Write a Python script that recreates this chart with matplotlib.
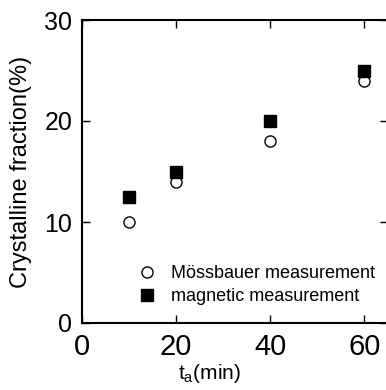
import matplotlib
matplotlib.use('Agg')
import matplotlib.pyplot as plt

plt.rcParams['font.family'] = ['Liberation Sans', 'DejaVu Sans']

t_min = [10, 20, 40, 60]
mossbauer = [10, 14, 18, 24]
magnetic = [12.5, 15, 20, 25]

fig = plt.figure(figsize=(3.86, 3.9), dpi=100)
ax = fig.add_axes([82 / 386, 1 - 323 / 390, 306 / 386, 303 / 390])

ax.plot(t_min, mossbauer, 'o', mfc='white', mec='black', mew=1.0, ms=8,
        label='Mössbauer measurement', clip_on=False)
ax.plot(t_min, magnetic, 's', mfc='black', mec='black', ms=8,
        label='magnetic measurement', clip_on=False)

ax.set_xlim(0, 65)
ax.set_ylim(0, 30)
ax.set_xticks([0, 20, 40, 60])
ax.set_yticks([0, 10, 20, 30])
ax.tick_params(direction='in', top=True, right=True, length=6, width=1)
ax.tick_params(axis='x', labelsize=21, pad=7)
ax.tick_params(axis='y', labelsize=18, pad=7)
for s in ax.spines.values():
    s.set_linewidth(1.5)

ax.set_xlabel(r'$\mathregular{t_a}$(min)', fontsize=15)
ax.xaxis.set_label_coords(0.415, -0.13)
ax.set_ylabel('Crystalline fraction(%)', fontsize=17)
ax.yaxis.set_label_coords(-0.165, 0.5)

ax.legend(loc='lower left', bbox_to_anchor=(0.16, 0.035), frameon=False,
          fontsize=13, handletextpad=0.8, labelspacing=0.35,
          borderaxespad=0, handlelength=1.0)

fig.savefig('out.png', dpi=100)
